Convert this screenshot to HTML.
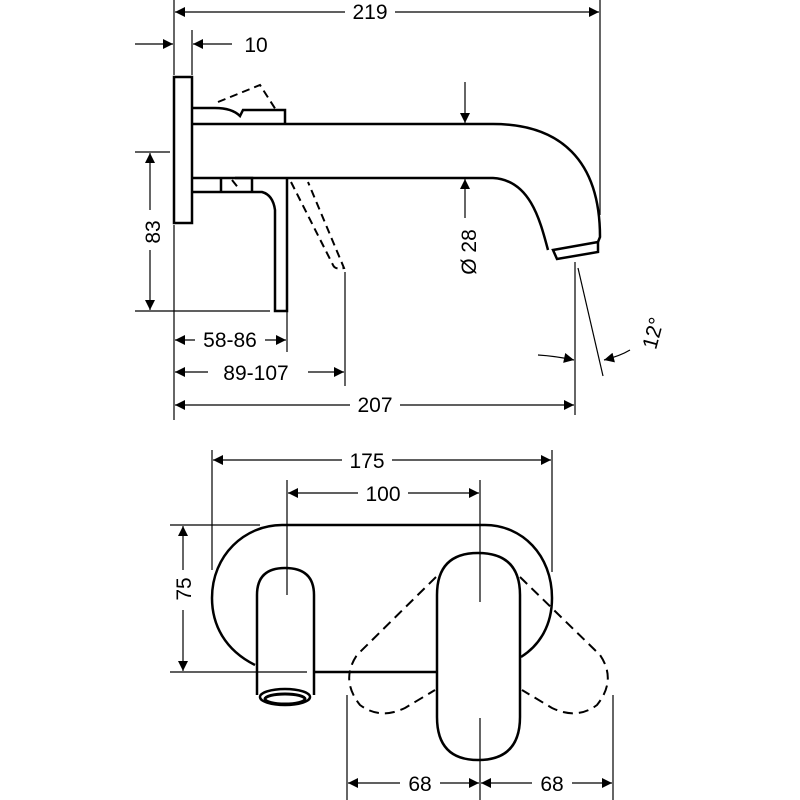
<!DOCTYPE html>
<html><head><style>body{margin:0;background:#fff}svg{display:block}</style></head><body>
<svg width="800" height="800" viewBox="0 0 800 800" xmlns="http://www.w3.org/2000/svg" font-family="Liberation Sans, DejaVu Sans, sans-serif">
<defs>
<marker id="a" viewBox="0 0 10 10" refX="10" refY="5" markerWidth="13" markerHeight="10" markerUnits="userSpaceOnUse" orient="auto-start-reverse"><path d="M0,0L10,5L0,10z" fill="#000"/></marker>
</defs>
<g stroke="#000" fill="none">
<!-- TOP VIEW -->
<g stroke-width="2.5">
<rect x="174" y="77" width="18" height="146"/>
<path d="M192,124 H493 C560,124 600,160 600,237 L598,242"/>
<path d="M192,178 H493 C530,180 540,220 548,250"/>
<path d="M553,250 L598,242 L598,252 L557,259 Z"/>
<path d="M192,108 H215 Q232,108 240,116 L243,110 H285 V124"/>
<path d="M192,192 H221 V178 M221,192 H262 Q273,195 275,210 V311 H287 V178"/>
<path d="M235,178 H252 V192"/>
</g>
<g stroke-width="2" stroke-dasharray="8,5">
<path d="M218,102 L260,85 L276,110"/>
<path d="M232,180 L240,190"/>
<path d="M291,182 L333,265 Q335,270 344,268 L308,182"/>
</g>
<g stroke-width="1.2">
<line x1="174" y1="0" x2="174" y2="75"/><line x1="600" y1="0" x2="600" y2="215"/>
<line x1="192" y1="30" x2="192" y2="75"/>
<line x1="135" y1="152" x2="170" y2="152"/><line x1="135" y1="311" x2="270" y2="311"/>
<line x1="174" y1="225" x2="174" y2="420"/>
<line x1="287" y1="311" x2="287" y2="352"/>
<line x1="345" y1="272" x2="345" y2="386"/>
<line x1="575" y1="262" x2="575" y2="415"/>
<line x1="578" y1="268" x2="603" y2="376"/>
<line x1="465" y1="82" x2="465" y2="123" marker-end="url(#a)"/>
<line x1="465" y1="218" x2="465" y2="179" marker-end="url(#a)"/>
<line x1="150" y1="153" x2="150" y2="310" marker-start="url(#a)" marker-end="url(#a)"/>
<line x1="175" y1="12" x2="599" y2="12" marker-start="url(#a)" marker-end="url(#a)"/>
<line x1="135" y1="44" x2="173" y2="44" marker-end="url(#a)"/>
<line x1="232" y1="44" x2="193" y2="44" marker-end="url(#a)"/>
<line x1="175" y1="340" x2="286" y2="340" marker-start="url(#a)" marker-end="url(#a)"/>
<line x1="175" y1="372" x2="344" y2="372" marker-start="url(#a)" marker-end="url(#a)"/>
<line x1="175" y1="405" x2="574" y2="405" marker-start="url(#a)" marker-end="url(#a)"/>
<path d="M538,355 Q555,356 574,360" marker-end="url(#a)"/>
<path d="M630,350 Q620,356 604,360" marker-end="url(#a)"/>
</g>
<!-- BOTTOM VIEW -->
<g stroke-width="2.5">
<path d="M255,665 C225,650 212,625 212,598 C212,555 245,525 282,525 H485 C522,525 552,555 552,598 C552,625 540,645 521,657"/>
<path d="M314,672 H437"/>
<path d="M257,695 V595 Q257,568 285,568 Q314,568 314,595 V695"/>
<ellipse cx="285" cy="697" rx="25" ry="8"/>
<ellipse cx="285" cy="699" rx="20" ry="5" stroke-width="3"/>
<path d="M437,595 Q437,553 478,553 Q520,553 520,595 V717 Q520,760 478,760 Q437,760 437,717 Z"/>
</g>
<g stroke-width="2" stroke-dasharray="10,6">
<path d="M436,577 L357,655 Q340,680 360,705 Q380,720 405,708 L435,690"/>
<path d="M520,577 L600,655 Q617,680 597,705 Q577,720 552,708 L522,690"/>
</g>
<g stroke-width="1.2">
<line x1="212" y1="450" x2="212" y2="570"/><line x1="552" y1="450" x2="552" y2="572"/>
<line x1="287" y1="480" x2="287" y2="595"/><line x1="480" y1="480" x2="480" y2="602"/>
<line x1="480" y1="718" x2="480" y2="800"/>
<line x1="347" y1="695" x2="347" y2="800"/><line x1="613" y1="695" x2="613" y2="800"/>
<line x1="170" y1="525" x2="260" y2="525"/><line x1="170" y1="672" x2="307" y2="672"/>
<line x1="213" y1="460" x2="551" y2="460" marker-start="url(#a)" marker-end="url(#a)"/>
<line x1="288" y1="493" x2="479" y2="493" marker-start="url(#a)" marker-end="url(#a)"/>
<line x1="183" y1="526" x2="183" y2="671" marker-start="url(#a)" marker-end="url(#a)"/>
<line x1="348" y1="783" x2="479" y2="783" marker-start="url(#a)" marker-end="url(#a)"/>
<line x1="481" y1="783" x2="612" y2="783" marker-start="url(#a)" marker-end="url(#a)"/>
</g>
</g>
<g font-size="21" fill="#000" text-anchor="middle">
<rect x="345" y="0" width="50" height="24" fill="#fff"/><text x="370" y="19">219</text>
<text x="256" y="52">10</text>
<rect x="138" y="210" width="24" height="40" fill="#fff"/><text transform="translate(160,232) rotate(-90)">83</text>
<rect x="455" y="222" width="24" height="60" fill="#fff"/><text transform="translate(476,252) rotate(-90)">Ø 28</text>
<rect x="195" y="328" width="70" height="24" fill="#fff"/><text x="230" y="347">58-86</text>
<rect x="208" y="360" width="100" height="24" fill="#fff"/><text x="256" y="380">89-107</text>
<rect x="350" y="393" width="50" height="24" fill="#fff"/><text x="375" y="412">207</text>
<text transform="translate(660,335) rotate(-75)">12°</text>
<rect x="342" y="448" width="50" height="24" fill="#fff"/><text x="367" y="468">175</text>
<rect x="358" y="481" width="50" height="24" fill="#fff"/><text x="383" y="501">100</text>
<rect x="170" y="570" width="24" height="40" fill="#fff"/><text transform="translate(191,589) rotate(-90)">75</text>
<rect x="400" y="771" width="40" height="24" fill="#fff"/><text x="420" y="791">68</text>
<rect x="532" y="771" width="40" height="24" fill="#fff"/><text x="552" y="791">68</text>
</g>
</svg>
</body></html>
